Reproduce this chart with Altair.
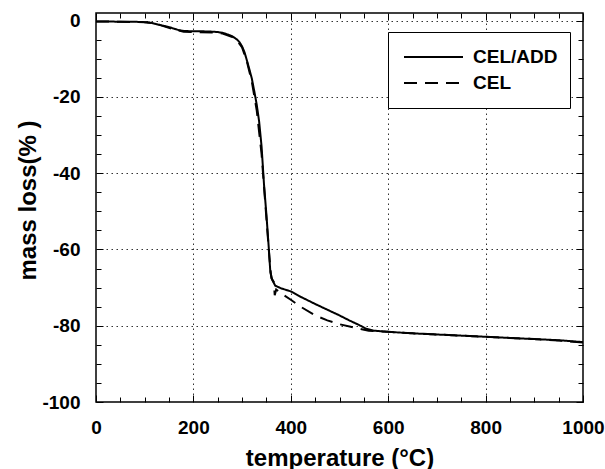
import altair as alt
import pandas as pd

# ---- data ----
series_names = ["CEL/ADD", "CEL"]

temp_add = [0, 20, 50, 80, 100, 110, 120, 130, 140, 150, 160, 170, 180, 200, 220, 240, 250, 260,
            270, 280, 290, 295, 300, 305, 310, 315, 320, 325, 330, 335, 340, 345, 350, 355, 358,
            362, 368, 380, 400, 420, 450, 480, 500, 520, 540, 555, 570, 600, 650, 700, 750, 800,
            850, 900, 950, 1000]
mass_add = [-0.2, -0.2, -0.3, -0.3, -0.4, -0.5, -0.8, -1.1, -1.4, -1.7, -2.1, -2.5, -2.7, -2.8,
            -2.8, -2.9, -3.0, -3.2, -3.6, -4.1, -5.0, -5.7, -6.8, -8.3, -10.5, -12.8, -15.2,
            -18.5, -22.0, -26.5, -33.0, -43.0, -51.0, -60.0, -66.0, -68.0, -69.5, -70.2, -71.0,
            -72.4, -74.3, -76.1, -77.3, -78.6, -79.8, -80.8, -81.3, -81.6, -82.0, -82.3, -82.6,
            -82.9, -83.2, -83.5, -83.8, -84.3]

temp_cel = [0, 50, 100, 120, 140, 160, 180, 200, 240, 260, 280, 290, 300, 310, 320, 330, 340,
            350, 356, 360, 365, 367, 370, 380, 400, 420, 450, 475, 500, 530, 560, 600, 650, 700,
            750, 800, 850, 900, 950, 1000]
mass_cel = [-0.2, -0.3, -0.4, -0.7, -1.5, -2.3, -2.9, -3.0, -3.1, -3.4, -4.3, -5.3, -7.0, -10.8,
            -16.0, -23.5, -35.0, -52.0, -62.0, -67.5, -68.5, -72.0, -70.5, -71.5, -73.2, -75.0,
            -77.3, -78.6, -79.6, -80.5, -81.3, -81.6, -82.0, -82.3, -82.6, -82.9, -83.2, -83.5,
            -83.9, -84.4]

x_ticks = list(range(0, 1001, 50))
y_ticks = list(range(0, -101, -5))

df = pd.concat([
    pd.DataFrame({"T": temp_add, "M": mass_add, "series": series_names[0]}),
    pd.DataFrame({"T": temp_cel, "M": mass_cel, "series": series_names[1]}),
], ignore_index=True)

FONT = "Liberation Sans"
sx = alt.Scale(domain=[0, 1000], nice=False, zero=False)
sy = alt.Scale(domain=[-100, 2], nice=False, zero=False)

x_tick_expr = {"expr": "datum.value % 200 === 0 ? -7 : -5"}
y_tick_expr = {"expr": "datum.value % 20 === 0 ? -7 : -5"}

x_bottom = alt.Axis(
    values=x_ticks, labelExpr="datum.value % 200 === 0 ? '' + datum.value : ''",
    labelFont=FONT, labelFontSize=19, labelFontWeight="bold", labelColor="black",
    labelPadding=23, labelFlush=False, labelOverlap=False,
    tickSize=x_tick_expr, tickColor="black", tickWidth=1, domain=False,
    grid=True, gridColor="#333333", gridDash=[1.5, 3.5], gridWidth=1,
    gridOpacity={"condition": {"test": "datum.value % 200 === 0 && datum.value > 0 && datum.value < 1000", "value": 1}, "value": 0},
    title="temperature (°C)", titleFont=FONT, titleFontSize=24, titleFontWeight="bold",
    titleColor="black", titleY=63, titleBaseline="alphabetic",
)
y_left = alt.Axis(
    values=y_ticks, labelExpr="datum.value % 20 === 0 ? '' + datum.value : ''",
    labelFont=FONT, labelFontSize=19, labelFontWeight="bold", labelColor="black",
    labelPadding=23, labelFlush=False, labelOverlap=False,
    tickSize=y_tick_expr, tickColor="black", tickWidth=1, domain=False,
    grid=True, gridColor="#333333", gridDash=[1.5, 3.5], gridWidth=1,
    gridOpacity={"condition": {"test": "datum.value % 20 === 0 && datum.value > -100", "value": 1}, "value": 0},
    title="mass loss(% )", titleFont=FONT, titleFontSize=24, titleFontWeight="bold",
    titleColor="black", titleX=-61, titleY=187, titleBaseline="alphabetic", titleAlign="center",
)
x_top = alt.Axis(orient="top", values=x_ticks, labels=False, tickSize=x_tick_expr,
                 tickColor="black", tickWidth=1, domain=False, grid=False, title=None)
y_right = alt.Axis(orient="right", values=y_ticks, labels=False, tickSize=y_tick_expr,
                   tickColor="black", tickWidth=1, domain=False, grid=False, title=None)

lines = alt.Chart(df).mark_line(color="black", strokeWidth=2).encode(
    x=alt.X("T:Q", scale=sx, axis=x_bottom),
    y=alt.Y("M:Q", scale=sy, axis=y_left),
    strokeDash=alt.StrokeDash(
        "series:N",
        scale=alt.Scale(domain=series_names, range=[[1, 0], [13, 8]]),
        sort=series_names,
        legend=alt.Legend(
            title=None, orient="none", legendX=292, legendY=19, direction="vertical",
            strokeColor="black", fillColor="white", padding=12,
            symbolType="stroke", symbolSize=3481, symbolStrokeWidth=2,
            symbolStrokeColor="black", symbolOffset=3, clipHeight=26, rowPadding=-3,
            labelFont=FONT, labelFontSize=19, labelFontWeight="bold", labelColor="black",
            labelOffset=9,
        ),
    ),
)

frame = alt.Chart(df).mark_line(opacity=0).encode(
    x=alt.X("T:Q", scale=sx, axis=x_top),
    y=alt.Y("M:Q", scale=sy, axis=y_right),
)

chart = alt.layer(lines, frame).resolve_axis(x="independent", y="independent").properties(
    width=487, height=389,
    autosize=alt.AutoSizeParams(type="none"),
    padding={"left": 96, "top": 13, "right": 22, "bottom": 67},
    background="white",
).configure_view(stroke="black", strokeWidth=1.5)

chart.save("out.html", embed_options={"renderer": "svg", "actions": False})
